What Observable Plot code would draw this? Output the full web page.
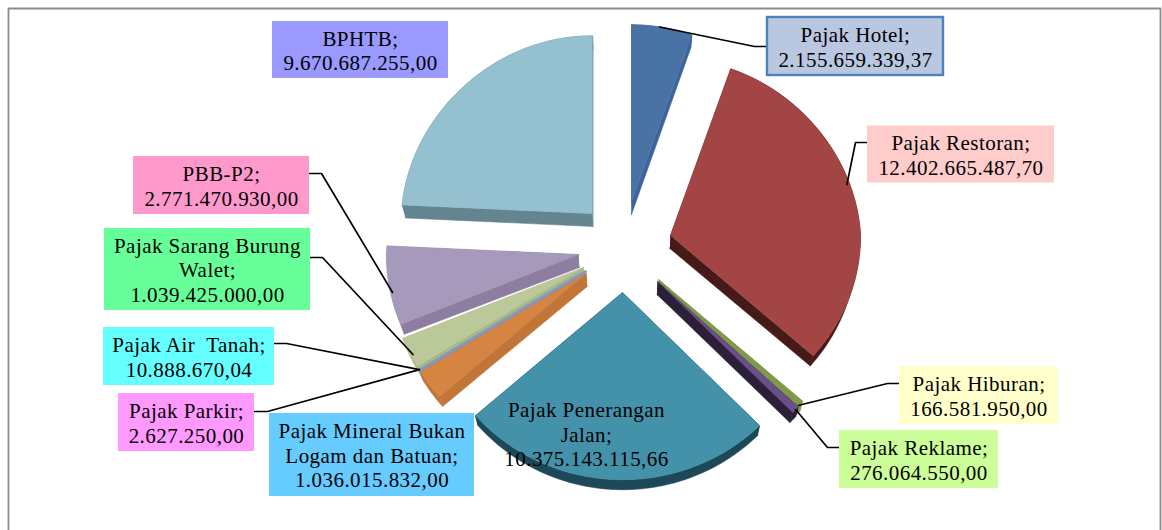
<!DOCTYPE html>
<html><head><meta charset="utf-8">
<script src="https://cdn.jsdelivr.net/npm/d3@7"></script>
<script src="https://cdn.jsdelivr.net/npm/@observablehq/plot@0.6"></script>
<style>html,body{margin:0;padding:0;background:#fff}svg{display:block}</style>
</head><body><div id="chart"></div>
<script>
// ---- data, in pie order starting at 12 o'clock, clockwise
const names = ["Pajak Hotel","Pajak Restoran","Pajak Hiburan","Pajak Reklame","Pajak Penerangan\nJalan","Pajak Mineral Bukan\nLogam dan Batuan","Pajak Parkir","Pajak Air  Tanah","Pajak Sarang Burung\nWalet","PBB-P2","BPHTB"];
const values = [2155659339.37,12402665487.70,166581950,276064550,10375143115.66,1036015832,2627250,10888670.04,1039425000,2771470930,9670687255];

// ---- styles
const topColors  = ["#4A73A5","#A24544","#7F9B49","#69508A","#4392A9","#D58441","#8398BC","#8398BC","#BBC99A","#A59ABB","#94C0D0"];
const sideColors = ["#3E659B","#451A19","#7F9B49","#2C2038","#1D4858","#C17538","#8398BC","#8398BC","#A9B787","#8D7E9F","#648590"];
const boxFills   = ["#B9C7E0","#FFCCCC","#FFFFCC","#CCFF99",null,"#66CCFF","#FF99FF","#66FFFF","#66FF99","#FF99CC","#9999FF"];

// ---- layout: exploded apex and radius of each slice, label boxes [x1,x2,y1,y2]
const apexX = [631,670,658,657,622,586,585,585,583,578,592];
const apexY = [201,235,279,281,292,273,271,271,267,254,213];
const radii = [190,190,192,192,195,195,195,195,195,192,191];
const boxes = [[767,943,17,75],[867,1054,125.5,182.5],[899,1058,366,424],[839,998,430,488],null,[269,474,413,496],[118,254,393,451],[103,274,327,385],[104,310,228,310],[133,309,156,214],[272,448,21,78]];
const labelPos = [null,null,null,null,[586,433.5],null,null,null,null,null,null];
// leader: which side of the box it leaves, height on that side, elbow length, rim angle and radius fraction
const leaders = [
  {i:0, side:"l", y:46,  el:13, a:9,  f:1.0},
  {i:1, side:"l", y:142, el:12, a:73,  f:.985},
  {i:2, side:"l", y:383, el:12, a:133, f:1.0},
  {i:3, side:"l", y:447, el:12, a:134, f:1.0},
  {i:6, side:"r", y:411, el:13, a:238.4, f:1.0},
  {i:7, side:"r", y:343, el:12, a:238.4, f:1.0},
  {i:8, side:"r", y:257, el:12, a:242, f:.99},
  {i:9, side:"r", y:173, el:12, a:258, f:.99}
];

const squashUp = .93, squashDown = .96, narrowing = .05, viewX = 630;
const fmt = d3.formatLocale({decimal:",",thousands:".",grouping:[3]}).format(",.2f");
const total = d3.sum(values);
const cum = d3.cumsum(values);
const rad = d => d*Math.PI/180;
const startDeg = i => i === 0 ? 0 : cum[i-1]/total*360;
const endDeg = i => cum[i]/total*360;

function topPoint(i, deg, f=1){
  const c = Math.cos(rad(deg)), R = radii[i];
  const far = c > 0 ? 1 - narrowing*c : 1;
  return {x: apexX[i] + R*f*Math.sin(rad(deg))*far, y: apexY[i] - R*f*c*(c>0?squashUp:squashDown)};
}
function lower(p){
  const thick = p.y < 250 ? 13 : 13 - 3*p.f;
  return {x: p.x + (viewX - p.x)*.016, y: p.y + thick, f:p.f};
}
function rimPoints(i){
  const a0 = startDeg(i), a1 = endDeg(i), n = Math.max(1, Math.ceil(a1-a0));
  return d3.range(n+1).map(k => ({...topPoint(i, a0+(a1-a0)*k/n), f:1}));
}
function topPoly(i){ return [{x:apexX[i], y:apexY[i]}, ...rimPoints(i)]; }
function sidePoly(i){
  const apex = {x:apexX[i], y:apexY[i], f:0};
  const rim = rimPoints(i), first = rim[0], last = rim[rim.length-1];
  const band = [...rim, ...rim.map(lower).reverse()];
  const edgeA = [apex, first, lower(first), lower(apex)];
  const edgeB = [apex, last, lower(last), lower(apex)];
  return [[band,"band"],[edgeA,"a"],[edgeB,"b"]].flatMap(([pts,z]) => pts.map(p => ({x:p.x, y:p.y, z})));
}

const paintOrder = [0,1,10,9,8,7,6,5,2,3,4];
const sliceMarks = paintOrder.flatMap(i => {
  const w = values[i]/total < .001 ? 2.4 : .6;
  return [
    Plot.line(sidePoly(i), {x:"x", y:"y", z:"z", fill:sideColors[i], stroke:sideColors[i], strokeWidth:.6}),
    Plot.line(topPoly(i), {x:"x", y:"y", fill:topColors[i], stroke:topColors[i], strokeWidth:w})
  ];
});

const boxRows = boxes.map((b,i) => b && ({x1:b[0], x2:b[1], y1:b[2], y2:b[3], fill:boxFills[i], i})).filter(Boolean);
const labelRows = names.map((n,i) => {
  const b = boxes[i];
  const pos = b ? [(b[0]+b[1])/2, (b[2]+b[3])/2] : labelPos[i];
  return {x:pos[0], y:pos[1], text:n + ";\n" + fmt(values[i])};
});
const leaderRows = leaders.flatMap((l,k) => {
  const b = boxes[l.i];
  const ex = l.side === "l" ? b[0] : b[1];
  const dir = l.side === "l" ? -1 : 1;
  const rim = topPoint(l.i, l.a, l.f);
  return [{x:ex,y:l.y,k},{x:ex+dir*l.el,y:l.y,k},{x:rim.x,y:rim.y,k}];
});
const frame = [{x:8,y:530},{x:8,y:8},{x:1160,y:8},{x:1160,y:530}];
const hotelBox = boxRows.filter(d => d.i === 0);
const plainBox = boxRows.filter(d => d.i !== 0);

const chart = Plot.plot({
  width:1162, height:530, margin:0,
  x:{domain:[0,1162], range:[0,1162], axis:null},
  y:{domain:[0,530], range:[0,530], axis:null},
  style:{background:"#fff", letterSpacing:"0.45px"},
  marks:[
    Plot.line(frame, {x:"x", y:"y", stroke:"#8C8C8C", strokeWidth:1.8}),
    ...sliceMarks,
    Plot.line(leaderRows, {x:"x", y:"y", z:"k", stroke:"#000", strokeWidth:1.7}),
    Plot.rect(plainBox, {x1:"x1", x2:"x2", y1:"y1", y2:"y2", fill:"fill", inset:0}),
    Plot.rect(hotelBox, {x1:"x1", x2:"x2", y1:"y1", y2:"y2", fill:"fill", stroke:"#4F81BD", strokeWidth:2.4}),
    Plot.text(labelRows, {x:"x", y:"y", text:"text", fontFamily:"Liberation Serif", fontSize:21, lineHeight:1.17, fill:"#000", textAnchor:"middle"})
  ]
});
document.getElementById("chart").appendChild(chart);
</script></body></html>
